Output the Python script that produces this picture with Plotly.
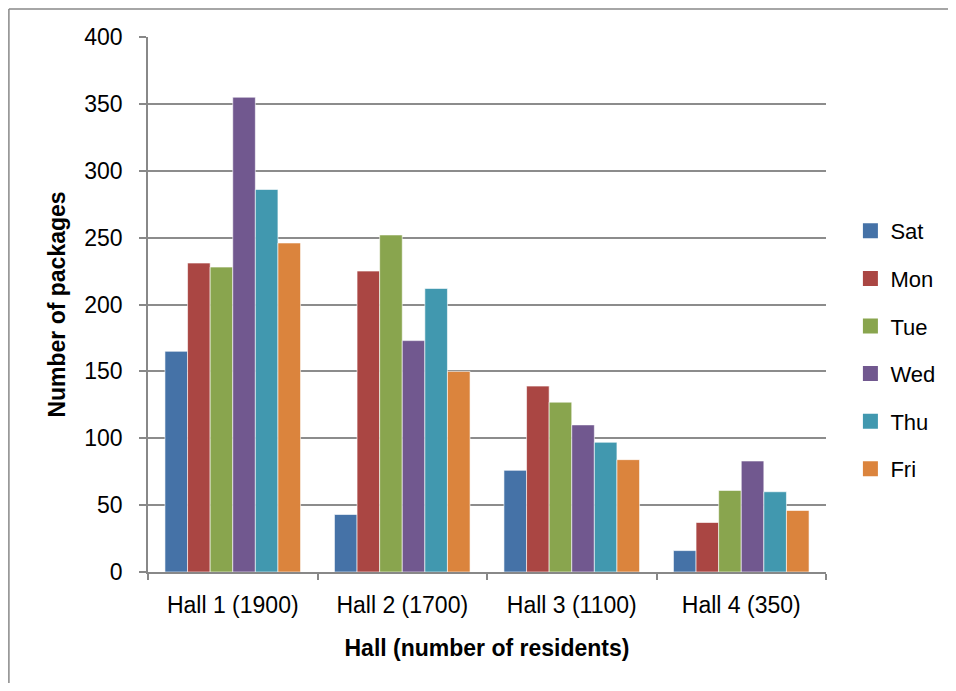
import plotly.graph_objects as go

halls = ["Hall 1 (1900)", "Hall 2 (1700)", "Hall 3 (1100)", "Hall 4 (350)"]
days = ["Sat", "Mon", "Tue", "Wed", "Thu", "Fri"]
sat = [165, 43, 76, 16]
mon = [231, 225, 139, 37]
tue = [228, 252, 127, 61]
wed = [355, 173, 110, 83]
thu = [286, 212, 97, 60]
fri = [246, 150, 84, 46]
series = [sat, mon, tue, wed, thu, fri]
colors = ["#4572A7", "#AA4643", "#89A54E", "#71588F", "#4198AF", "#DB843D"]
yticks = [0, 50, 100, 150, 200, 250, 300, 350, 400]

FONT = "Liberation Sans"
FW, FH = 948, 675
L, T, W, H = 140, 29, 678, 535

fig = go.Figure()
for name, vals, col in zip(days, series, colors):
    fig.add_trace(go.Bar(
        x=halls, y=vals, name=name, legendgroup=name, showlegend=False,
        marker=dict(color=col, line=dict(color="rgba(255,255,255,0.6)", width=1)),
    ))
for name, col in zip(days, colors):
    fig.add_trace(go.Scatter(
        x=[None], y=[None], mode="markers", name=name, legendgroup=name,
        marker=dict(symbol="square", size=15, color=col),
    ))

bx0 = (8.9 - 148) / W
by1 = (572 - 8.9) / H
fig.update_layout(
    width=FW, height=FH,
    margin=dict(l=L, r=FW - L - W, t=T, b=FH - T - H),
    paper_bgcolor="white", plot_bgcolor="white",
    barmode="group", bargap=0.2, bargroupgap=0,
    font=dict(family=FONT, size=22, color="black"),
    legend=dict(x=1.036, y=0.415, yanchor="middle", xanchor="left",
                font=dict(size=22, family=FONT), tracegroupgap=16,
                itemwidth=30, bgcolor="rgba(0,0,0,0)"),
    xaxis=dict(
        type="category", categoryorder="array", categoryarray=halls,
        tickson="boundaries", ticks="outside", ticklen=6,
        tickcolor="#888888", tickwidth=1.5,
        showline=True, linecolor="#888888", linewidth=1.5,
        showgrid=False, ticklabelstandoff=12,
        tickfont=dict(size=23, family=FONT),
        title=dict(text="<b>Hall (number of residents)</b>", font=dict(size=23, family=FONT), standoff=23),
    ),
    yaxis=dict(
        range=[0, 400], tickvals=yticks, ticks="outside", ticklen=7,
        tickcolor="#888888", tickwidth=1.5,
        showline=True, linecolor="#888888", linewidth=1.5,
        showgrid=True, gridcolor="#8c8c8c", gridwidth=1.5,
        zeroline=False, ticklabelstandoff=12,
        tickfont=dict(size=23, family=FONT),
        title=dict(text="<b>Number of packages</b>", font=dict(size=23, family=FONT), standoff=12),
    ),
    shapes=[
        dict(type="line", xref="paper", yref="paper", x0=bx0, x1=bx0,
             y0=(572 - 700) / H, y1=by1, line=dict(color="#888888", width=1.5), layer="below"),
        dict(type="line", xref="paper", yref="paper", x0=bx0, x1=(1000 - 148) / W,
             y0=by1, y1=by1, line=dict(color="#888888", width=1.5), layer="below"),
    ],
)

fig.write_html("out.html")
